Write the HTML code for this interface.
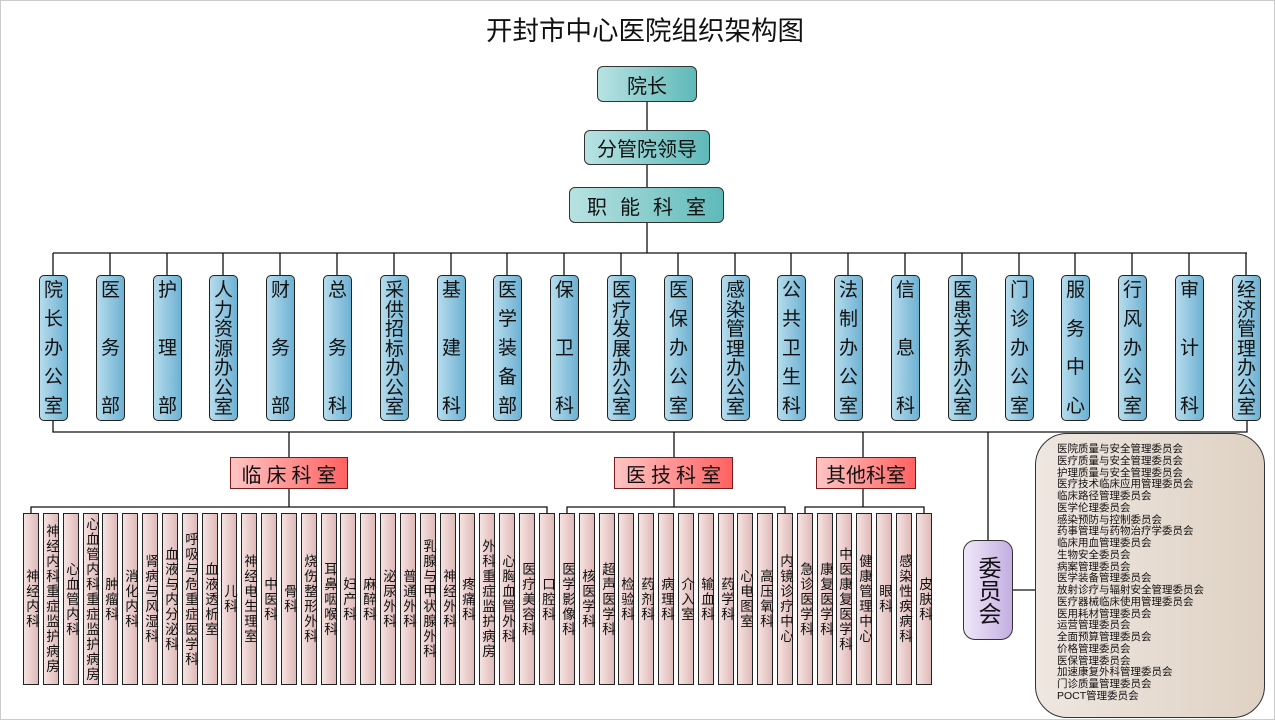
<!DOCTYPE html>
<html><head><meta charset="utf-8"><style>
body{margin:0;width:1275px;height:720px;position:relative;background:#fff;overflow:hidden;font-family:"Liberation Sans","Noto Sans CJK SC",sans-serif;color:#111}
.frame{position:absolute;left:0;top:0;width:1273px;height:718px;border:1px solid #ccc}
.t{position:absolute;left:440px;top:9px;width:410px;text-align:center;font-size:26.5px}
.top{position:absolute;border:1.5px solid #333;border-radius:6px;background:linear-gradient(90deg,#b8e2e2,#5fb9b9);display:flex;align-items:center;justify-content:center;font-size:20px;box-sizing:border-box}
.f{position:absolute;top:275px;width:29px;height:146px;box-sizing:border-box;border:1.5px solid #222;border-radius:5px;background:linear-gradient(90deg,#b6dcec,#6eb1d3);display:flex;flex-direction:column;justify-content:space-between;align-items:center;padding:5px 0 4px;font-size:19px;line-height:19.5px}
.f i{font-style:normal;display:block}
.c{position:absolute;top:457px;height:32px;box-sizing:border-box;border:1.5px solid #7a1a1a;background:linear-gradient(90deg,#ffc4c4,#ff6262);display:flex;align-items:center;justify-content:center;font-size:20px}
.b{position:absolute;top:513px;width:16px;height:172px;box-sizing:border-box;border:1.5px solid #222;background:linear-gradient(90deg,#f5e3e2,#dfbab9);display:flex;align-items:center;justify-content:center}
.b span{writing-mode:vertical-rl;text-orientation:upright;font-size:13.5px;line-height:14px;letter-spacing:1.5px}
.w{position:absolute;left:963px;top:540px;width:50px;height:100px;box-sizing:border-box;border:1.5px solid #333;border-radius:12px;background:linear-gradient(90deg,#efe8f8,#c4aee2);display:flex;align-items:center;justify-content:center}
.w span{writing-mode:vertical-rl;text-orientation:upright;font-size:23px}
.cm{position:absolute;left:1035px;top:433px;width:230px;height:285px;box-sizing:border-box;border:1.5px solid #333;border-radius:32px;background:linear-gradient(90deg,#eee6e0,#dfd2c4);padding:10px 0 0 21px;font-size:10.5px;line-height:11.75px;white-space:nowrap}
</style></head><body>
<div class="frame"></div>
<div class="t">开封市中心医院组织架构图</div>
<svg width="1275" height="720" style="position:absolute;left:0;top:0" stroke="#111" stroke-width="1.3" fill="none">
<path d="M647 102V130M647 165V187M647 223V253M53 253H1247"/>
<path d="M53 253V275M110 253V275M167 253V275M223 253V275M280 253V275M337 253V275M394 253V275M451 253V275M507 253V275M564 253V275M621 253V275M678 253V275M735 253V275M791 253V275M848 253V275M905 253V275M962 253V275M1019 253V275M1075 253V275M1132 253V275M1189 253V275M1246 253V275"/>
<path d="M53 421V432H1247V421M289 432V457M674 432V457M863 432V457M988 432V540M1013 590H1035"/>
<path d="M289 489V507M31 513V507H547V513M674 489V507M567 513V507H785V513M863 489V507M805 513V507H924V513"/>
</svg>
<div class="top" style="left:597px;top:66px;width:100px;height:36px">院长</div>
<div class="top" style="left:584px;top:130px;width:126px;height:35px">分管院领导</div>
<div class="top" style="left:569px;top:187px;width:155px;height:36px;letter-spacing:13px;padding-left:13px">职能科室</div>

<div class="f" style="left:39px"><i>院</i><i>长</i><i>办</i><i>公</i><i>室</i></div>
<div class="f" style="left:96px"><i>医</i><i>务</i><i>部</i></div>
<div class="f" style="left:153px"><i>护</i><i>理</i><i>部</i></div>
<div class="f" style="left:209px"><i>人</i><i>力</i><i>资</i><i>源</i><i>办</i><i>公</i><i>室</i></div>
<div class="f" style="left:266px"><i>财</i><i>务</i><i>部</i></div>
<div class="f" style="left:323px"><i>总</i><i>务</i><i>科</i></div>
<div class="f" style="left:380px"><i>采</i><i>供</i><i>招</i><i>标</i><i>办</i><i>公</i><i>室</i></div>
<div class="f" style="left:437px"><i>基</i><i>建</i><i>科</i></div>
<div class="f" style="left:493px"><i>医</i><i>学</i><i>装</i><i>备</i><i>部</i></div>
<div class="f" style="left:550px"><i>保</i><i>卫</i><i>科</i></div>
<div class="f" style="left:607px"><i>医</i><i>疗</i><i>发</i><i>展</i><i>办</i><i>公</i><i>室</i></div>
<div class="f" style="left:664px"><i>医</i><i>保</i><i>办</i><i>公</i><i>室</i></div>
<div class="f" style="left:721px"><i>感</i><i>染</i><i>管</i><i>理</i><i>办</i><i>公</i><i>室</i></div>
<div class="f" style="left:777px"><i>公</i><i>共</i><i>卫</i><i>生</i><i>科</i></div>
<div class="f" style="left:834px"><i>法</i><i>制</i><i>办</i><i>公</i><i>室</i></div>
<div class="f" style="left:891px"><i>信</i><i>息</i><i>科</i></div>
<div class="f" style="left:948px"><i>医</i><i>患</i><i>关</i><i>系</i><i>办</i><i>公</i><i>室</i></div>
<div class="f" style="left:1005px"><i>门</i><i>诊</i><i>办</i><i>公</i><i>室</i></div>
<div class="f" style="left:1061px"><i>服</i><i>务</i><i>中</i><i>心</i></div>
<div class="f" style="left:1118px"><i>行</i><i>风</i><i>办</i><i>公</i><i>室</i></div>
<div class="f" style="left:1175px"><i>审</i><i>计</i><i>科</i></div>
<div class="f" style="left:1232px"><i>经</i><i>济</i><i>管</i><i>理</i><i>办</i><i>公</i><i>室</i></div>

<div class="c" style="left:230px;width:118px;letter-spacing:5px;padding-left:5px">临床科室</div>
<div class="c" style="left:614px;width:119px;letter-spacing:5px;padding-left:5px">医技科室</div>
<div class="c" style="left:816px;width:100px">其他科室</div>

<div class="b" style="left:23px"><span>神经内科</span></div>
<div class="b" style="left:43px"><span>神经内科重症监护病房</span></div>
<div class="b" style="left:63px"><span>心血管内科</span></div>
<div class="b" style="left:83px"><span>心血管内科重症监护病房</span></div>
<div class="b" style="left:102px"><span>肿瘤科</span></div>
<div class="b" style="left:122px"><span>消化内科</span></div>
<div class="b" style="left:142px"><span>肾病与风湿科</span></div>
<div class="b" style="left:162px"><span>血液与内分泌科</span></div>
<div class="b" style="left:182px"><span>呼吸与危重症医学科</span></div>
<div class="b" style="left:202px"><span>血液透析室</span></div>
<div class="b" style="left:221px"><span>儿科</span></div>
<div class="b" style="left:241px"><span>神经电生理室</span></div>
<div class="b" style="left:261px"><span>中医科</span></div>
<div class="b" style="left:281px"><span>骨科</span></div>
<div class="b" style="left:301px"><span>烧伤整形外科</span></div>
<div class="b" style="left:321px"><span>耳鼻咽喉科</span></div>
<div class="b" style="left:340px"><span>妇产科</span></div>
<div class="b" style="left:360px"><span>麻醉科</span></div>
<div class="b" style="left:380px"><span>泌尿外科</span></div>
<div class="b" style="left:400px"><span>普通外科</span></div>
<div class="b" style="left:420px"><span>乳腺与甲状腺外科</span></div>
<div class="b" style="left:440px"><span>神经外科</span></div>
<div class="b" style="left:459px"><span>疼痛科</span></div>
<div class="b" style="left:479px"><span>外科重症监护病房</span></div>
<div class="b" style="left:499px"><span>心胸血管外科</span></div>
<div class="b" style="left:519px"><span>医疗美容科</span></div>
<div class="b" style="left:539px"><span>口腔科</span></div>
<div class="b" style="left:559px"><span>医学影像科</span></div>
<div class="b" style="left:579px"><span>核医学科</span></div>
<div class="b" style="left:599px"><span>超声医学科</span></div>
<div class="b" style="left:618px"><span>检验科</span></div>
<div class="b" style="left:638px"><span>药剂科</span></div>
<div class="b" style="left:658px"><span>病理科</span></div>
<div class="b" style="left:678px"><span>介入室</span></div>
<div class="b" style="left:698px"><span>输血科</span></div>
<div class="b" style="left:718px"><span>药学科</span></div>
<div class="b" style="left:737px"><span>心电图室</span></div>
<div class="b" style="left:757px"><span>高压氧科</span></div>
<div class="b" style="left:777px"><span>内镜诊疗中心</span></div>
<div class="b" style="left:797px"><span>急诊医学科</span></div>
<div class="b" style="left:817px"><span>康复医学科</span></div>
<div class="b" style="left:836px"><span>中医康复医学科</span></div>
<div class="b" style="left:856px"><span>健康管理中心</span></div>
<div class="b" style="left:876px"><span>眼科</span></div>
<div class="b" style="left:896px"><span>感染性疾病科</span></div>
<div class="b" style="left:916px"><span>皮肤科</span></div>

<div class="w"><span>委员会</span></div>
<div class="cm">医院质量与安全管理委员会<br>医疗质量与安全管理委员会<br>护理质量与安全管理委员会<br>医疗技术临床应用管理委员会<br>临床路径管理委员会<br>医学伦理委员会<br>感染预防与控制委员会<br>药事管理与药物治疗学委员会<br>临床用血管理委员会<br>生物安全委员会<br>病案管理委员会<br>医学装备管理委员会<br>放射诊疗与辐射安全管理委员会<br>医疗器械临床使用管理委员会<br>医用耗材管理委员会<br>运营管理委员会<br>全面预算管理委员会<br>价格管理委员会<br>医保管理委员会<br>加速康复外科管理委员会<br>门诊质量管理委员会<br>POCT管理委员会</div>
</body></html>
